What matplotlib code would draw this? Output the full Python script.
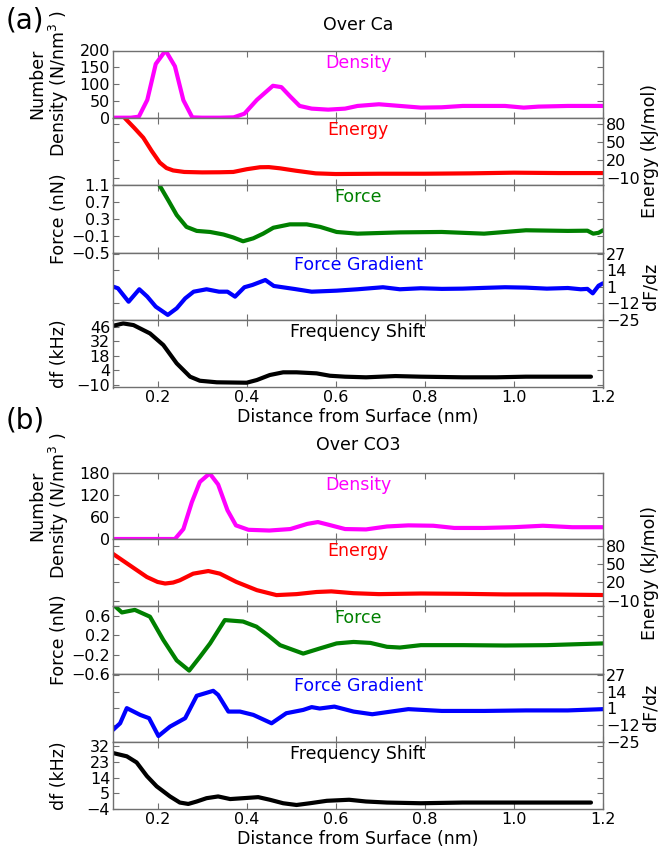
import matplotlib.pyplot as plt
import numpy as np

plt.rcParams['font.family'] = ['DejaVu Sans']
plt.rcParams['font.size'] = 12.5

# ---- (a) Over Ca ----
x_dens_ca = [0.10, 0.12, 0.14, 0.158, 0.177, 0.196, 0.218, 0.239, 0.258, 0.278, 0.30, 0.34,
             0.371, 0.395, 0.423, 0.459, 0.478, 0.498, 0.519, 0.546, 0.583, 0.621, 0.649,
             0.697, 0.744, 0.791, 0.838, 0.885, 0.933, 0.980, 1.022, 1.055, 1.121, 1.20]
dens_ca = [0, 0, 0, 3, 53, 160, 200, 153, 52, 1, 0, 0,
           1, 12, 53, 95, 91, 63, 35, 27, 24, 27, 35,
           40, 35, 30, 31, 35, 35, 35, 30, 33, 35, 35]

x_ener_ca = [0.10, 0.127, 0.148, 0.168, 0.187, 0.205, 0.220, 0.235, 0.26, 0.30, 0.34, 0.37,
             0.40, 0.43, 0.45, 0.475, 0.51, 0.555, 0.60, 0.70, 0.80, 0.90, 1.0, 1.1, 1.2]
ener_ca = [125, 89, 73, 57, 35, 16, 7, 3, 0.5, -0.2, 0, 0.5,
           5, 8.3, 8.5, 6.5, 2.6, -1.8, -2.9, -2.4, -2.4, -1.8, -0.7, -1.3, -1.3]

x_force_ca = [0.19, 0.204, 0.224, 0.243, 0.265, 0.288, 0.318, 0.348, 0.37, 0.392, 0.415,
              0.437, 0.46, 0.497, 0.535, 0.565, 0.602, 0.649, 0.744, 0.838, 0.933, 1.027,
              1.121, 1.165, 1.178, 1.19, 1.2]
force_ca = [1.36, 1.1, 0.74, 0.39, 0.11, 0.015, -0.01, -0.07, -0.14, -0.23, -0.16,
            -0.05, 0.09, 0.17, 0.17, 0.11, -0.01, -0.05, -0.02, -0.01, -0.05, 0.03,
            0.015, 0.02, -0.05, -0.03, 0.03]

x_grad_ca = [0.10, 0.111, 0.135, 0.159, 0.177, 0.196, 0.223, 0.243, 0.262, 0.281, 0.31,
             0.338, 0.357, 0.374, 0.395, 0.413, 0.442, 0.461, 0.508, 0.546, 0.602, 0.649,
             0.706, 0.744, 0.791, 0.838, 0.885, 0.933, 0.98, 1.027, 1.074, 1.121, 1.15,
             1.165, 1.177, 1.19, 1.2]
grad_ca = [1.3, 0, -10.6, -0.8, -6.6, -14.5, -21, -15.8, -8, -2.7, -0.8,
           -2.7, -2.7, -6.6, 0.8, 2.6, 6.5, 1.8, -0.6, -2.7, -1.9, -0.8,
           0.8, -0.8, 0, -0.5, -0.3, 0.3, 0.8, 0.5, -0.3, 0.2, -0.8,
           -0.5, -4, 2, 3.9]

x_freq_ca = [0.10, 0.123, 0.146, 0.183, 0.213, 0.243, 0.273, 0.295, 0.333, 0.40, 0.423,
             0.452, 0.482, 0.512, 0.557, 0.587, 0.621, 0.668, 0.734, 0.791, 0.885, 0.961,
             1.027, 1.173]
freq_ca = [46.9, 49.2, 47.6, 39.6, 28.4, 10.8, -2, -5.9, -7.4, -7.8, -5.2,
           -0.4, 2.2, 2.2, 1.2, -1.1, -2, -2.6, -1.4, -2, -2.6, -2.6,
           -2, -2]

# ---- (b) Over CO3 ----
x_dens_co3 = [0.10, 0.15, 0.20, 0.239, 0.258, 0.277, 0.295, 0.317, 0.336, 0.357, 0.376,
              0.404, 0.451, 0.498, 0.536, 0.56, 0.583, 0.621, 0.668, 0.715, 0.763, 0.819,
              0.866, 0.933, 0.999, 1.065, 1.131, 1.2]
dens_co3 = [0, 0, 0, 0, 27, 100, 155, 178, 148, 78, 37,
            25, 23, 27, 41, 46, 39, 27, 26, 34, 37, 36,
            30, 30, 32, 36, 32, 32]

x_ener_co3 = [0.10, 0.138, 0.176, 0.20, 0.217, 0.235, 0.25, 0.28, 0.314, 0.34, 0.377,
              0.423, 0.467, 0.512, 0.557, 0.59, 0.64, 0.697, 0.791, 0.885, 0.98, 1.074, 1.2]
ener_co3 = [66.6, 47.6, 28.6, 20.5, 17.9, 19.5, 23.2, 34.1, 38.4, 34.1, 20.5,
            7, -1.1, 0.5, 4, 5, 2, 0.5, 1.5, 1, 0, 0, -1]

x_force_co3 = [0.10, 0.104, 0.12, 0.149, 0.183, 0.213, 0.243, 0.271, 0.295, 0.318, 0.351,
               0.392, 0.422, 0.449, 0.475, 0.527, 0.564, 0.602, 0.64, 0.678, 0.715, 0.744,
               0.791, 0.885, 0.98, 1.074, 1.2]
force_co3 = [0.9, 0.8, 0.667, 0.72, 0.58, 0.1, -0.32, -0.53, -0.25, 0.03, 0.51,
             0.48, 0.375, 0.19, -0.006, -0.18, -0.075, 0.03, 0.06, 0.04, -0.04, -0.055,
             -0.006, -0.006, -0.013, -0.006, 0.03]

x_grad_co3 = [0.10, 0.116, 0.131, 0.161, 0.181, 0.202, 0.228, 0.262, 0.288, 0.325, 0.336,
              0.359, 0.385, 0.415, 0.456, 0.489, 0.527, 0.546, 0.564, 0.597, 0.64, 0.682,
              0.724, 0.763, 0.838, 0.933, 1.027, 1.121, 1.2]
grad_co3 = [-15.9, -10.7, 1.2, -4.1, -6.7, -20.7, -13.3, -6.7, 10.9, 14.8, 11.6,
            -1.5, -1.5, -4.1, -10.7, -2.8, -0.2, 2, 0.9, 2.4, -1.5, -3.6,
            -1.5, 0.4, -1, -1, -0.6, -0.6, 0.4]

x_freq_co3 = [0.10, 0.131, 0.153, 0.176, 0.198, 0.228, 0.25, 0.269, 0.288, 0.31, 0.336,
              0.363, 0.392, 0.426, 0.452, 0.482, 0.512, 0.542, 0.58, 0.63, 0.668, 0.715,
              0.791, 0.885, 0.98, 1.074, 1.173]
freq_co3 = [28.1, 26.2, 22.7, 14.9, 9, 3.2, -0.3, -1.1, 0.3, 2.2, 3.2,
            1.7, 2.2, 2.8, 1.3, -0.7, -1.7, -0.7, 0.7, 1.3, 0.3, -0.3,
            -0.7, -0.3, -0.3, -0.3, -0.3]

x_ticks = [0.2, 0.4, 0.6, 0.8, 1.0, 1.2]
energy_ticks = [-10, 20, 50, 80]
grad_ticks = [-25, -12, 1, 14, 27]

panel_names = ['Density', 'Energy', 'Force', 'Force Gradient', 'Frequency Shift']
panel_colors = ['#ff00ff', '#ff0000', '#008000', '#0000ff', '#000000']

W, H = 660, 850
fig = plt.figure(figsize=(W / 100, H / 100), dpi=100)

LEFT, RIGHT = 113, 603
SPINE = '#707070'
FS = 12.5      # labels and titles
TFS = 11.5     # tick labels


def make_group(edges, series, ylims, yticks, title, tag, title_y, tag_y):
    axes = []
    for i in range(5):
        top, bot = edges[i], edges[i + 1]
        ax = fig.add_axes([LEFT / W, 1 - bot / H, (RIGHT - LEFT) / W, (bot - top) / H])
        xs, ys = series[i]
        ax.plot(xs, ys, color=panel_colors[i], lw=3, solid_joinstyle='round',
                solid_capstyle='round')
        ax.set_xlim(0.1, 1.2)
        ax.set_ylim(*ylims[i])
        ax.set_xticks(x_ticks)
        ax.set_yticks(yticks[i])
        for s in ax.spines.values():
            s.set_color(SPINE)
            s.set_linewidth(1.0)
        right_side = i in (1, 3)
        ax.tick_params(direction='in', length=4.5, width=0.8, color=SPINE,
                       top=True, right=True, left=True, bottom=True,
                       labelleft=not right_side, labelright=right_side,
                       labelbottom=(i == 4), pad=2, labelsize=TFS)
        ax.text(0.5, 0.82, panel_names[i], color=panel_colors[i], transform=ax.transAxes,
                ha='center', va='center', fontsize=FS)
        axes.append(ax)

    # y labels, two lines for the density one
    axes[0].text(-0.154, 0.5, 'Number', transform=axes[0].transAxes,
                 rotation=90, ha='center', va='center', fontsize=FS)
    axes[0].text(-0.11, 0.5, 'Density (N/nm$^3$ )', transform=axes[0].transAxes,
                 rotation=90, ha='center', va='center', fontsize=FS)
    axes[2].text(-0.11, 0.5, 'Force (nN)', transform=axes[2].transAxes,
                 rotation=90, ha='center', va='center', fontsize=FS)
    axes[4].text(-0.11, 0.5, 'df (kHz)', transform=axes[4].transAxes,
                 rotation=90, ha='center', va='center', fontsize=FS)
    axes[1].text(1.096, 0.5, 'Energy (kJ/mol)', transform=axes[1].transAxes,
                 rotation=90, ha='center', va='center', fontsize=FS)
    axes[3].text(1.096, 0.5, 'dF/dz', transform=axes[3].transAxes,
                 rotation=90, ha='center', va='center', fontsize=FS)
    axes[4].set_xlabel('Distance from Surface (nm)', fontsize=FS, labelpad=2)

    fig.text((LEFT + RIGHT) / 2 / W, 1 - title_y / H, title, ha='center', va='center',
             fontsize=FS)
    fig.text(6 / W, 1 - tag_y / H, tag, ha='left', va='center', fontsize=20)
    return axes


make_group([50.5, 117.7, 185, 252.7, 320, 387.5],
           [(x_dens_ca, dens_ca), (x_ener_ca, ener_ca), (x_force_ca, force_ca),
            (x_grad_ca, grad_ca), (x_freq_ca, freq_ca)],
           [(0, 200), (-21, 90), (-0.5, 1.1), (-25, 28), (-12.4, 52.5)],
           [[0, 50, 100, 150, 200], energy_ticks, [-0.5, -0.1, 0.3, 0.7, 1.1],
            grad_ticks, [-10, 4, 18, 32, 46]],
           'Over Ca', '(a)', 25, 21)

make_group([472.7, 539, 606, 674, 741.5, 809],
           [(x_dens_co3, dens_co3), (x_ener_co3, ener_co3), (x_force_co3, force_co3),
            (x_grad_co3, grad_co3), (x_freq_co3, freq_co3)],
           [(0, 180), (-19, 91), (-0.6, 0.8), (-25, 28), (-4, 34.7)],
           [[0, 60, 120, 180], energy_ticks, [-0.6, -0.2, 0.2, 0.6],
            grad_ticks, [-4, 5, 14, 23, 32]],
           'Over CO3', '(b)', 445, 420)

fig.savefig('out.png', dpi=100)
